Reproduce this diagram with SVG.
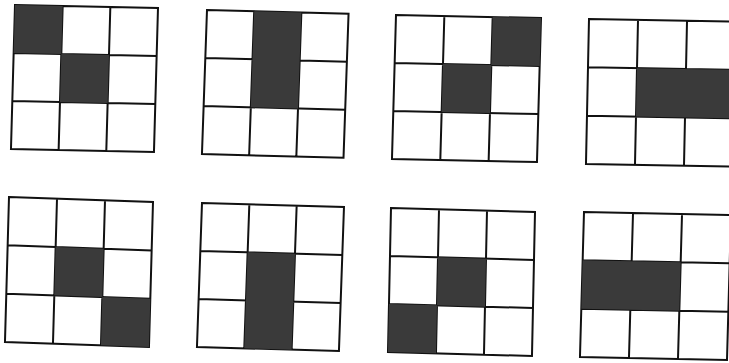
<svg xmlns="http://www.w3.org/2000/svg" width="729" height="363" viewBox="0 0 729 363">
<style>
.bg{fill:#ffffff}
.sh{fill:#3a3a3a;stroke:none}
.gl{fill:none;stroke:#111111;stroke-width:2;vector-effect:non-scaling-stroke;stroke-linejoin:miter}
</style>
<defs>
<path id="lines" class="gl" d="M0 0H144V144H0Z M48 0V144 M96 0V144 M0 48H144 M0 96H144"/>
</defs>
<rect class="bg" x="0" y="0" width="729" height="363"/>
<g id="grid1" transform="matrix(0.993 0.021 -0.028 1.0 15 5)">
<use href="#lines"/>
<rect class="sh" x="0" y="0" width="48" height="48"/>
<rect class="sh" x="48" y="48" width="48" height="48"/>
</g>
<g id="grid2" transform="matrix(0.983 0.026 -0.035 1.0 207 10)">
<use href="#lines"/>
<rect class="sh" x="48" y="0" width="48" height="96"/>
</g>
<g id="grid3" transform="matrix(1.007 0.021 -0.028 1.0 396 15)">
<use href="#lines"/>
<rect class="sh" x="96" y="0" width="48" height="48"/>
<rect class="sh" x="48" y="48" width="48" height="48"/>
</g>
<g id="grid4" transform="matrix(1.021 0.018 -0.021 1.007 589 19)">
<use href="#lines"/>
<rect class="sh" x="48" y="48" width="96" height="48"/>
</g>
<g id="grid5" transform="matrix(1.0 0.035 -0.028 1.007 9 197)">
<use href="#lines"/>
<rect class="sh" x="48" y="48" width="48" height="48"/>
<rect class="sh" x="96" y="96" width="48" height="48"/>
</g>
<g id="grid6" transform="matrix(0.986 0.028 -0.035 1.0 202 203)">
<use href="#lines"/>
<rect class="sh" x="48" y="48" width="48" height="96"/>
</g>
<g id="grid7" transform="matrix(1.0 0.028 -0.021 1.0 391 208)">
<use href="#lines"/>
<rect class="sh" x="48" y="48" width="48" height="48"/>
<rect class="sh" x="0" y="96" width="48" height="48"/>
</g>
<g id="grid8" transform="matrix(1.021 0.021 -0.028 1.007 584 212)">
<use href="#lines"/>
<rect class="sh" x="0" y="48" width="96" height="48"/>
</g>
</svg>
